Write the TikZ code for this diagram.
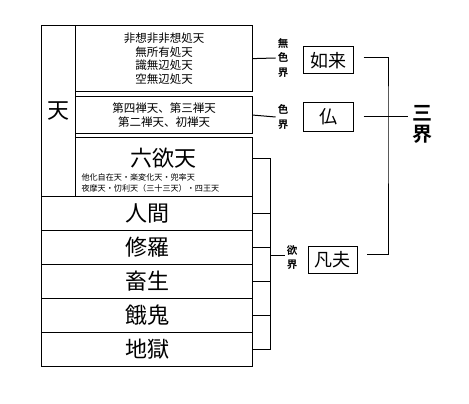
\documentclass[tikz,border=0pt]{standalone}
\usepackage{fontspec}
\setmainfont{Noto Sans CJK JP}[BoldFont={Noto Sans CJK JP Bold}]
\usetikzlibrary{positioning}
\tikzset{
  realm/.style={draw, line width=1.2pt, inner sep=0pt, anchor=north west},
  biglabel/.style={font=\fontsize{22}{24}\selectfont},
  midlabel/.style={font=\fontsize{18}{20}\selectfont},
  heaven/.style={font=\fontsize{11.5}{13.8}\selectfont, align=center},
  tiny/.style={font=\fontsize{8.1}{11}\selectfont, align=left, anchor=west},
  side/.style={font=\bfseries\fontsize{10.5}{14.5}\selectfont, align=center, inner sep=2pt},
  link/.style={line width=1pt}
}
\begin{document}
\begin{tikzpicture}[x=1pt, y=-1pt]
        \useasboundingbox (0,0) rectangle (469,404);
        % heavens
        \node [realm, biglabel, minimum width=34pt, minimum height=171pt] (ten) at (41,25) {天};
        \node [realm, heaven, minimum width=177pt, minimum height=66pt] (k1) at (75,25) {非想非非想処天\\無所有処天\\識無辺処天\\空無辺処天};
        \node [realm, heaven, minimum width=177pt, minimum height=37pt] (k2) at (75,96) {第四禅天、第三禅天\\第二禅天、初禅天};
        \node [realm, minimum width=177pt, minimum height=59pt] (k3) at (75,137) {};
        \node [biglabel] (t6) at (163,158) {六欲天};
        \node [tiny] (t6sub) at (78,182.5) {他化自在天・楽変化天・兜率天\\夜摩天・忉利天（三十三天）・四王天};
        % lower realms
        \foreach \name [count=\i] in {人間,修羅,畜生,餓鬼,地獄}
            \node [realm, biglabel, minimum width=211pt, minimum height=34pt] (r\i) at (41,{196+34*(\i-1)}) {\name};
        % worlds
        \node [side] (mushiki) at (283,58) {無\\色\\界};
        \node [side] (shiki) at (283,117) {色\\界};
        \node [side] (yoku) at (292,257.5) {欲\\界};
        \node [draw, line width=1pt, midlabel, minimum width=50pt, minimum height=27pt, inner sep=0pt] (nyorai) at (328,60.5) {如来};
        \node [draw, line width=1pt, midlabel, minimum width=50pt, minimum height=28pt, inner sep=0pt] (hotoke) at (328,117) {仏};
        \node [draw, line width=1pt, midlabel, minimum width=49pt, minimum height=27pt, inner sep=0pt] (bonpu) at (332.5,259.5) {凡夫};
        \node [font=\bfseries\fontsize{20}{21}\selectfont, align=center, inner sep=4pt] (sankai) at (422.5,124) {三\\界};
        \coordinate (yb) at (270,255);
        \coordinate (sb) at (388,114);
        \draw [link] (k1.east) -- (mushiki.west);
        \draw [link] (k2.east) -- (shiki.west);
        \draw [link] (t6 -| k3.east) -- (t6 -| yb) -- (r5.east -| yb) -- (r5.east);
        \foreach \i in {1,...,4}
            \draw [link] (r\i.east) -- (r\i.east -| yb);
        \draw [link] (yb) -- (yb -| yoku.west);
        \draw [link] ([xshift=10pt,yshift=3pt]nyorai.east) -| (sb) |- ([xshift=9pt,yshift=5pt]bonpu.east);
        \draw [link] ([xshift=10pt]hotoke.east) -- (hotoke.east -| sankai.west);
    \end{tikzpicture}
\end{document}
